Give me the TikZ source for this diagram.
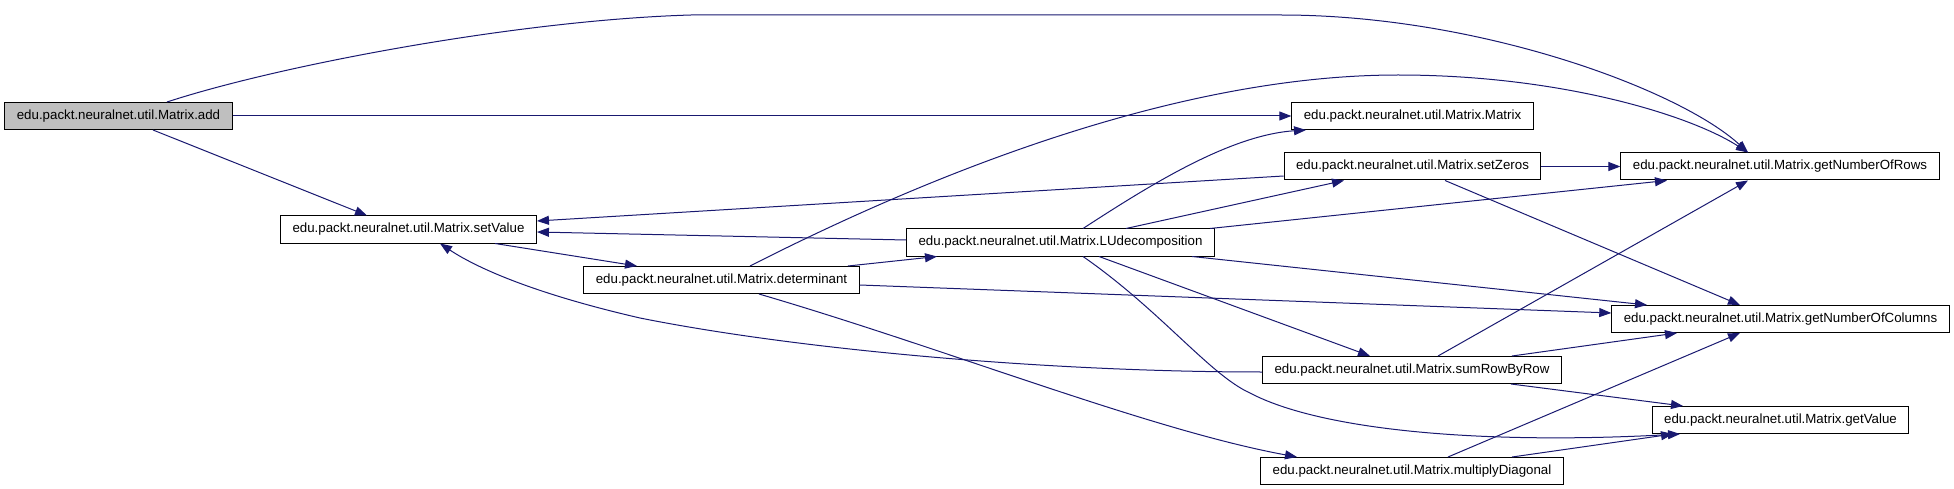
\documentclass[tikz,border=0pt]{standalone}
\usepackage{fontspec}
\setmainfont{Liberation Sans}
\usetikzlibrary{arrows.meta,calc}
\definecolor{edge}{HTML}{191970}
\definecolor{root}{HTML}{BFBFBF}

\begin{document}
\begin{tikzpicture}[x=1pt,y=-1pt,
  every node/.style={draw=black,fill=white,line width=1pt,font=\fontsize{13.3}{16}\selectfont,inner xsep=12pt,inner ysep=0pt,minimum height=27pt},
  call/.style={-{Triangle[length=12pt,width=9pt]},line width=1pt,edge}]
  \useasboundingbox (0,0) rectangle (1954,489);
  \node[fill=root] (add) at (118.5,116) {edu.packt.neuralnet.util.Matrix.add};
  \node (setvalue) at (408.5,229.5) {edu.packt.neuralnet.util.Matrix.setValue};
  \node (det) at (721.5,280) {edu.packt.neuralnet.util.Matrix.determinant};
  \node (lu) at (1060.5,242.5) {edu.packt.neuralnet.util.Matrix.LUdecomposition};
  \node (matrix) at (1412.5,116) {edu.packt.neuralnet.util.Matrix.Matrix};
  \node (setzeros) at (1412.5,166.5) {edu.packt.neuralnet.util.Matrix.setZeros};
  \node (rowsum) at (1412,370) {edu.packt.neuralnet.util.Matrix.sumRowByRow};
  \node (diag) at (1412,471) {edu.packt.neuralnet.util.Matrix.multiplyDiagonal};
  \node (rows) at (1780,166.5) {edu.packt.neuralnet.util.Matrix.getNumberOfRows};
  \node (cols) at (1780.5,319) {edu.packt.neuralnet.util.Matrix.getNumberOfColumns};
  \node (getvalue) at (1780.5,420) {edu.packt.neuralnet.util.Matrix.getValue};
  % calls from add
  \draw[call] (add.east) -- (matrix.west);
  \draw[call] ([xshift=48.5pt]add.north) .. controls (280,65) and (520,20) .. (691,15)
    -- (1281,15) .. controls (1480,15) and (1680,90) .. ([xshift=-32pt]rows.north);
  \draw[call] ([xshift=34.5pt]add.south) -- ([xshift=-41.5pt]setvalue.north);
  % calls from setValue and determinant
  \draw[call] ([xshift=86.5pt]setvalue.south) -- ([xshift=-84.5pt]det.north);
  \draw[call] ([xshift=126.5pt]det.north) -- ([xshift=-123.5pt]lu.south);
  \draw[call] ([xshift=28.5pt]det.north) .. controls (880,200) and (1150,75) .. (1398,75)
    .. controls (1560,75) and (1690,115) .. ([xshift=-32pt]rows.north);
  \draw[call] ([yshift=-5pt]det.east) -- ([yshift=6pt]cols.west);
  \draw[call] ([xshift=37.5pt]det.south) .. controls (950,350) and (1150,430) .. ([xshift=-115pt]diag.north);
  % calls from LUdecomposition
  \draw[call] ([yshift=2.5pt]lu.west) -- ([yshift=-2.5pt]setvalue.east);
  \draw[call] ([xshift=22.5pt]lu.north) .. controls (1150,185) and (1230,135) .. ([xshift=-106.5pt]matrix.south);
  \draw[call] ([xshift=65.5pt]lu.north) -- ([xshift=-68.5pt]setzeros.south);
  \draw[call] ([xshift=149.5pt]lu.north) -- ([xshift=-113pt]rows.south);
  \draw[call] ([xshift=131.5pt]lu.south) -- ([xshift=-133.5pt]cols.north);
  \draw[call] ([xshift=38.5pt]lu.south) -- ([xshift=-42pt]rowsum.north);
  \draw[call] ([xshift=22.5pt]lu.south) .. controls (1160,310) and (1210,375) .. (1250,393)
    .. controls (1320,430) and (1480,445) .. ([xshift=-100.5pt]getvalue.south);
  % calls from setZeros
  \draw[call] ([yshift=-9.5pt]setzeros.west) -- ([yshift=8.5pt]setvalue.east);
  \draw[call] (setzeros.east) -- (rows.west);
  \draw[call] ([xshift=32.5pt]setzeros.south) -- ([xshift=-40.5pt]cols.north);
  % calls from sumRowByRow
  \draw[call] ([yshift=-2pt]rowsum.west) .. controls (1050,372) and (800,350) .. (640,318)
    .. controls (540,295) and (480,270) .. ([xshift=31.5pt]setvalue.south);
  \draw[call] ([xshift=26pt]rowsum.north) -- ([xshift=-32pt]rows.south);
  \draw[call] ([xshift=100pt]rowsum.north) -- ([xshift=-103.5pt]cols.south);
  \draw[call] ([xshift=99pt]rowsum.south) -- ([xshift=-97.5pt]getvalue.north);
  % calls from multiplyDiagonal
  \draw[call] ([xshift=36pt]diag.north) -- ([xshift=-40.5pt]cols.south);
  \draw[call] ([xshift=100pt]diag.north) -- ([xshift=-107.5pt]getvalue.south);
\end{tikzpicture}
\end{document}
